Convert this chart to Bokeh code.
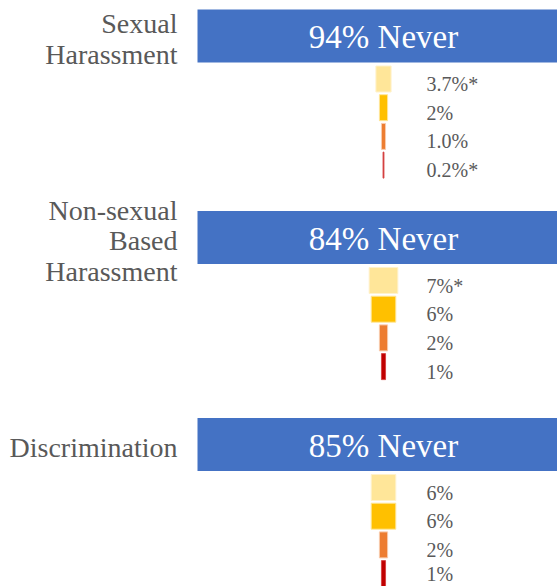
from bokeh.plotting import figure
from bokeh.models import ColumnDataSource, Range1d
from bokeh.core.properties import value
from bokeh.embed import file_html
from bokeh.resources import INLINE

# ---------------- data ----------------
group_lines = [["Sexual", "Harassment"],
               ["Non-sexual", "Based", "Harassment"],
               ["Discrimination"]]
never_pct = [94, 84, 85]

sexual_vals = [3.7, 2, 1.0, 0.2]
sexual_labels = ["3.7%*", "2%", "1.0%", "0.2%*"]
nonsexual_vals = [7, 6, 2, 1]
nonsexual_labels = ["7%*", "6%", "2%", "1%"]
discrim_vals = [6, 6, 2, 1]
discrim_labels = ["6%", "6%", "2%", "1%"]

level_colors = ["#FFE699", "#FFC000", "#ED7D31", "#C00000"]
level_edges = ["#FFF2CC", "#FFE699", "#F8CBAD", "#D64545"]

group_vals = [sexual_vals, nonsexual_vals, discrim_vals]
group_labels = [sexual_labels, nonsexual_labels, discrim_labels]

# ---------------- layout ----------------
W, H = 557, 586
CX = 383.0          # x of the funnel centre (px)
PX = 4.1            # pixels per percent
anchors = [35.5, 237.0, 444.0]   # y of each "Never" banner centre (px)
FONT = value("Liberation Serif")
GRAY = "#595959"

x_start = (0 - CX) / PX
x_end = (W - CX) / PX
band_left = (197 - CX) / PX
label_x = (426 - CX) / PX
cat_x = (177 - CX) / PX

p = figure(width=W, height=H, x_range=Range1d(x_start, x_end),
           y_range=Range1d(H, 0), output_backend="svg",
           toolbar_location=None, min_border=0,
           x_axis_location=None, y_axis_location=None,
           outline_line_color=None, background_fill_color="white",
           border_fill_color="white")
p.grid.visible = False

# Never banners
p.hbar(y=anchors, left=band_left, right=x_end + 5, height=53,
       fill_color="#4472C4", line_color=None)
p.text(x=[0] * 3, y=[a + 1 for a in anchors],
       text=[f"{v}% Never" for v in never_pct],
       text_font=FONT, text_font_size="33px", text_color="white",
       text_align="center", text_baseline="middle")

# category labels
cx, cy, ct = [], [], []
for a, lines in zip(anchors, group_lines):
    n = len(lines)
    for i, t in enumerate(lines):
        cx.append(cat_x)
        cy.append(a + 3 + (i - (n - 1) / 2) * 30.5)
        ct.append(t)
p.text(x=cx, y=cy, text=ct, text_font=FONT, text_font_size="28px",
       text_color=GRAY, text_align="right", text_baseline="middle")

# funnel steps
ys, lefts, rights, cols, edges, lx, ly, lt = [], [], [], [], [], [], [], []
for a, vals, labs in zip(anchors, group_vals, group_labels):
    for i, (v, lab) in enumerate(zip(vals, labs)):
        yc = a + 43 + i * 28.7
        ys.append(yc)
        lefts.append(-v / 2)
        rights.append(v / 2)
        cols.append(level_colors[i])
        edges.append(level_edges[i])
        lx.append(label_x)
        ly.append(min(yc + 5, H - 13))
        lt.append(lab)

src = ColumnDataSource(dict(y=ys, left=lefts, right=rights, color=cols, edge=edges))
p.hbar(y="y", left="left", right="right", height=26, source=src,
       fill_color="color", line_color="edge", line_width=1)
p.text(x=lx, y=ly, text=lt, text_font=FONT, text_font_size="20px",
       text_color=GRAY, text_align="left", text_baseline="middle")

open("out.html", "w").write(file_html(p, INLINE))
